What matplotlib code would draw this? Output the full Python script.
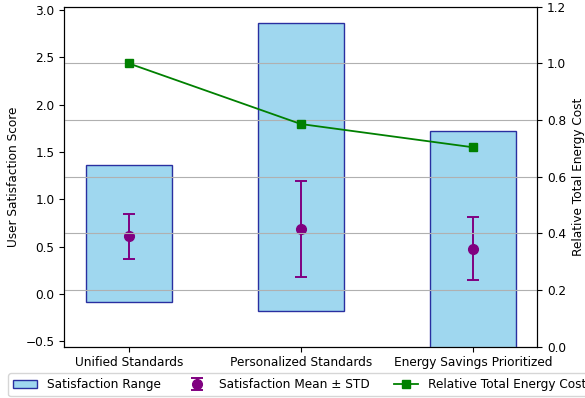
import numpy as np
import matplotlib.pyplot as plt

plt.rcParams['font.size'] = 8.7

# data
categories = ['Unified Standards', 'Personalized Standards', 'Energy Savings Prioritized']
sat_min = [-0.08, -0.18, -0.70]
sat_max = [1.36, 2.86, 1.72]
sat_mean = [0.61, 0.69, 0.48]
sat_std = [0.236, 0.506, 0.335]
energy_cost = [1.0, 0.786, 0.704]

x = np.arange(len(categories))
heights = np.array(sat_max) - np.array(sat_min)

fig, ax1 = plt.subplots(figsize=(5.85, 3.98), dpi=100)
fig.subplots_adjust(left=0.11, right=0.9185, top=0.983, bottom=0.129)

bars = ax1.bar(x, heights, bottom=sat_min, width=0.5, color='skyblue', alpha=0.8,
               edgecolor='darkblue', linewidth=1, label='Satisfaction Range')
eb = ax1.errorbar(x, sat_mean, yerr=sat_std, fmt='o', color='purple', markersize=7,
                  capsize=4.5, elinewidth=1.4, capthick=1.4, label='Satisfaction Mean ± STD')
ax1.set_ylabel('User Satisfaction Score')
ax1.set_xticks(x)
ax1.set_xticklabels(categories)
ax1.set_ylim(-0.555, 3.035)

ax2 = ax1.twinx()
line, = ax2.plot(x, energy_cost, color='green', marker='s', markersize=5.5,
                 linewidth=1.3, label='Relative Total Energy Cost')
ax2.set_ylabel('Relative Total Energy Cost')
ax2.set_ylim(0, 1.2)
ax2.grid(True)

# legend sits under the axes; it runs up to the right edge like the original
ax1.legend([bars, eb, line], [bars.get_label(), eb.get_label(), line.get_label()],
           loc='upper center', bbox_to_anchor=(0.497, -0.061), ncol=3)

plt.savefig('out.png', dpi=100)
